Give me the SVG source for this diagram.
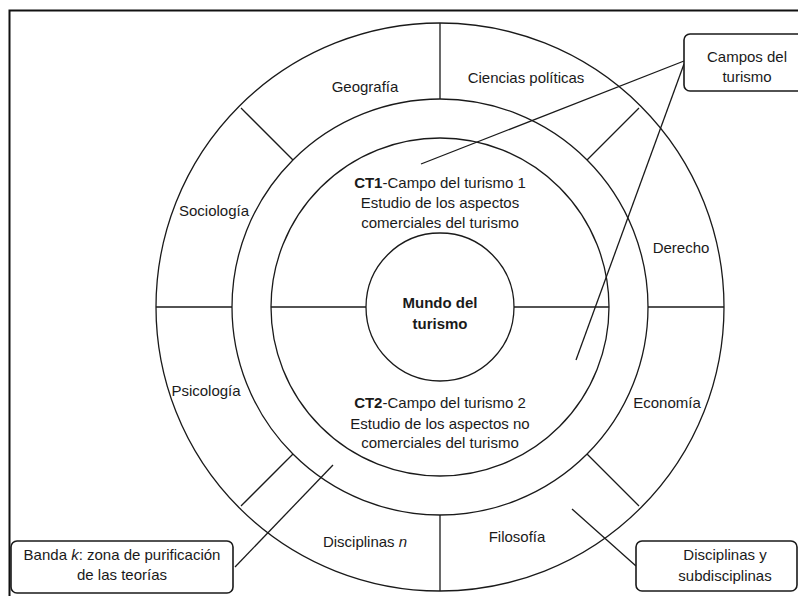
<svg xmlns="http://www.w3.org/2000/svg" width="798" height="596" viewBox="0 0 798 596">
<style>
.ln{fill:none;stroke:#1a1a1a;stroke-width:1.3}
.bx{fill:#fff;stroke:#1a1a1a;stroke-width:1.6}
text{font-family:"Liberation Sans",Arial,sans-serif;font-size:15px;fill:#1a1a1a;text-anchor:middle}
.b{font-weight:bold}
</style>
<rect x="0" y="0" width="798" height="596" fill="#fff"/>
<path d="M9.5 596 V10.5 H798" fill="none" stroke="#111" stroke-width="2"/>
<g id="disciplinas-ring">
<circle class="ln" cx="440" cy="307" r="284"/>
<line class="ln" x1="440" y1="23" x2="440" y2="99"/>
<line class="ln" x1="440" y1="515" x2="440" y2="591"/>
<line class="ln" x1="156" y1="307" x2="232" y2="307"/>
<line class="ln" x1="648" y1="307" x2="724" y2="307"/>
<line class="ln" x1="241" y1="108" x2="293" y2="160"/>
<line class="ln" x1="639" y1="108" x2="587" y2="160"/>
<line class="ln" x1="241" y1="506" x2="293" y2="454"/>
<line class="ln" x1="639" y1="506" x2="587" y2="454"/>
<text x="365" y="92">Geografía</text>
<text x="526" y="83">Ciencias políticas</text>
<text x="214" y="216">Sociología</text>
<text x="681" y="253">Derecho</text>
<text x="206" y="396">Psicología</text>
<text x="667" y="408">Economía</text>
<text x="365" y="547">Disciplinas <tspan font-style="italic">n</tspan></text>
<text x="517" y="542">Filosofía</text>
</g>
<g id="banda-k">
<circle class="ln" cx="440" cy="307" r="208"/>
</g>
<g id="campos">
<circle class="ln" cx="440" cy="307" r="169"/>
<line class="ln" x1="271" y1="307" x2="366" y2="307"/>
<line class="ln" x1="514" y1="307" x2="609" y2="307"/>
<text x="440" y="188"><tspan class="b">CT1</tspan>-Campo del turismo 1</text>
<text x="440" y="208">Estudio de los aspectos</text>
<text x="440" y="228">comerciales del turismo</text>
<text x="440" y="408"><tspan class="b">CT2</tspan>-Campo del turismo 2</text>
<text x="440" y="429">Estudio de los aspectos no</text>
<text x="440" y="448">comerciales del turismo</text>
</g>
<g id="mundo">
<circle class="ln" cx="440" cy="307" r="74"/>
<text class="b" x="440" y="308">Mundo del</text>
<text class="b" x="440" y="329">turismo</text>
</g>
<g id="connectors">
<line class="ln" x1="684" y1="61" x2="421" y2="164"/>
<line class="ln" x1="684" y1="64" x2="576" y2="360"/>
<line class="ln" x1="235" y1="567" x2="333" y2="465"/>
<line class="ln" x1="636" y1="566" x2="572" y2="509"/>
</g>
<g id="box-campos">
<rect class="bx" x="684" y="34" width="124" height="57" rx="6"/>
<text x="747" y="62">Campos del</text>
<text x="747" y="82">turismo</text>
</g>
<g id="box-banda">
<rect class="bx" x="11" y="541" width="222" height="52" rx="6"/>
<text x="122" y="560">Banda <tspan font-style="italic">k</tspan>: zona de purificación</text>
<text x="122" y="580">de las teorías</text>
</g>
<g id="box-disciplinas">
<rect class="bx" x="636" y="541" width="161" height="50" rx="6"/>
<text x="725" y="560">Disciplinas y</text>
<text x="725" y="581">subdisciplinas</text>
</g>
</svg>
